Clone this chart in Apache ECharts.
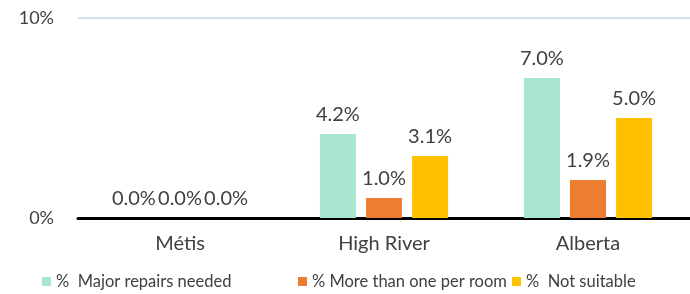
<!DOCTYPE html>
<html lang="en">
<head>
<meta charset="utf-8">
<title>Housing conditions</title>
<script src="https://cdn.jsdelivr.net/npm/echarts@6/dist/echarts.min.js"></script>
<style>
  body { margin: 0; background: #fff; }
  #chart { width: 690px; height: 294px; }
</style>
</head>
<body>
<div id="chart"></div>
<script type="text/javascript">
  let categories = ['Métis', 'High River', 'Alberta'];
  let seriesNames = ['%  Major repairs needed', '% More than one per room', '%  Not suitable'];
  let majorRepairs = [0.0, 4.2, 7.0];
  let moreThanOne = [0.0, 1.0, 1.9];
  let notSuitable = [0.0, 3.1, 5.0];
  let colors = ['#a9e6d2', '#ed7d31', '#ffc000'];
  let legendLeft = [42, 298, 512];

  let font = 'Lato, "Open Sans", sans-serif';

  function makeSeries(name, data, color){
    return {
      name: name,
      type: 'bar',
      data: data,
      barWidth: 36,
      barGap: '28%',
      itemStyle: { color: color },
      label: {
        show: true,
        position: 'top',
        distance: 9,
        color: '#404040',
        fontFamily: font,
        fontSize: 20,
        formatter: function(p){ return p.value.toFixed(1) + '%'; }
      }
    };
  }

  let Chart = echarts.init(document.getElementById('chart'));

  let legends = seriesNames.map(function(n, i){
    return {
      bottom: 4,
      left: legendLeft[i],
      padding: 0,
      itemWidth: 9,
      itemHeight: 9,
      itemGap: 5,
      icon: 'rect',
      textStyle: { color: '#404040', fontFamily: font, fontSize: 16.5 },
      data: [n]
    };
  });

  let option = {
    animation: false,
    color: colors,
    grid: { left: 78, right: -6, top: 18, bottom: 76 },
    legend: legends,
    xAxis: {
      type: 'category',
      data: categories,
      axisLine: { lineStyle: { color: '#000', width: 3 } },
      axisTick: { show: false },
      axisLabel: { color: '#404040', fontFamily: font, fontSize: 20, margin: 16 }
    },
    yAxis: {
      type: 'value',
      min: 0,
      max: 10,
      interval: 10,
      axisLine: { show: false },
      axisTick: { show: false },
      splitLine: { lineStyle: { color: '#d3deee', width: 2 } },
      axisLabel: { color: '#404040', fontFamily: font, fontSize: 18, margin: 24,
        formatter: '{value}%' }
    },
    series: [
      makeSeries(seriesNames[0], majorRepairs, colors[0]),
      makeSeries(seriesNames[1], moreThanOne, colors[1]),
      makeSeries(seriesNames[2], notSuitable, colors[2])
    ]
  };

  Chart.setOption(option);
</script>
</body>
</html>
